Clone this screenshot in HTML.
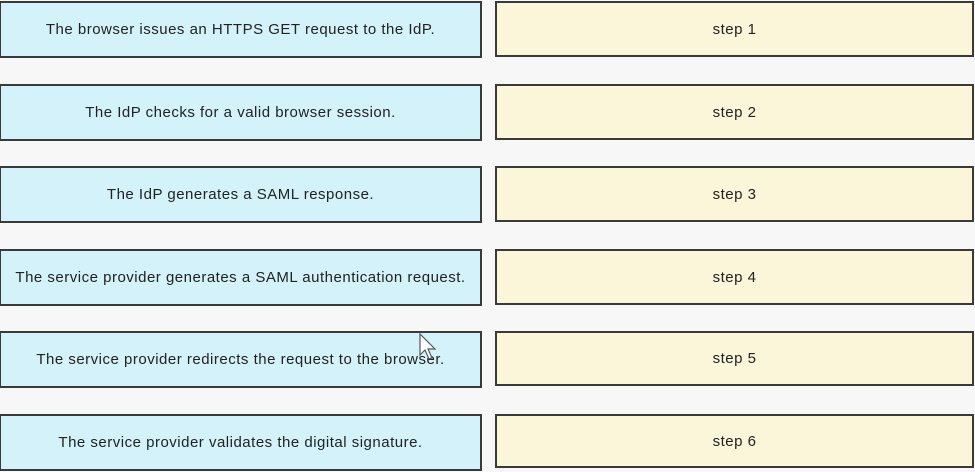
<!DOCTYPE html>
<html><head><style>
body{margin:0;width:975px;height:472px;background:#f7f7f7;position:relative;overflow:hidden;font-family:"Liberation Sans",sans-serif;}
.b{position:absolute;box-sizing:border-box;border:2px solid #3a3a3a;display:flex;align-items:center;justify-content:center;font-size:15px;letter-spacing:0.5px;color:#222;}
.l{left:0;width:482px;background:#d3f2fa;border-left-width:1px;}
.r{left:495px;width:479px;background:#fbf6d9;}
</style></head><body>
<div class="b l" style="top:1px;height:57px">The browser issues an HTTPS GET request to the IdP.</div>
<div class="b r" style="top:1px;height:56px">step 1</div>
<div class="b l" style="top:84px;height:57px">The IdP checks for a valid browser session.</div>
<div class="b r" style="top:84px;height:56px">step 2</div>
<div class="b l" style="top:166px;height:57px">The IdP generates a SAML response.</div>
<div class="b r" style="top:166px;height:56px">step 3</div>
<div class="b l" style="top:249px;height:57px">The service provider generates a SAML authentication request.</div>
<div class="b r" style="top:249px;height:56px">step 4</div>
<div class="b l" style="top:331px;height:57px">The service provider redirects the request to the browser.</div>
<div class="b r" style="top:331px;height:55px">step 5</div>
<div class="b l" style="top:414px;height:57px">The service provider validates the digital signature.</div>
<div class="b r" style="top:414px;height:54px">step 6</div>
<svg style="position:absolute;left:419px;top:333px" width="20" height="28"><path d="M1 1 L1 22 L6 17 L10 26 L13 25 L9 16 L16 16 Z" fill="#fff" stroke="#555" stroke-width="1.2"/></svg>
</body></html>
